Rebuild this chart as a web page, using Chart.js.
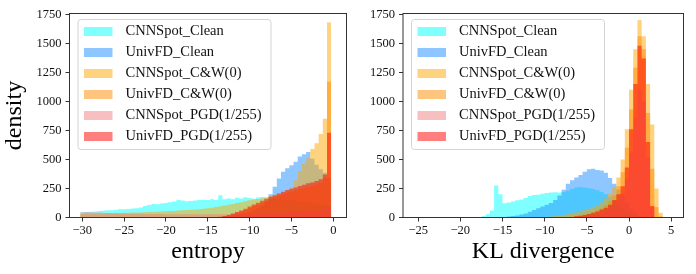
<!DOCTYPE html>
<html>
<head>
<meta charset="utf-8">
<script src="https://cdn.jsdelivr.net/npm/chart.js@4.4.0/dist/chart.umd.min.js"></script>
<style>
  html, body { margin: 0; padding: 0; background: #fff; }
  #wrap { position: relative; width: 696px; height: 274px; }
  canvas { position: absolute; top: 0; }
</style>
</head>
<body>
<div id="wrap">
  <canvas id="entropyChart" width="350" height="274" style="left:0"></canvas>
  <canvas id="klChart" width="346" height="274" style="left:350px"></canvas>
</div>
<script>
const seriesNames = ['CNNSpot_Clean', 'UnivFD_Clean', 'CNNSpot_C&W(0)', 'UnivFD_C&W(0)', 'CNNSpot_PGD(1/255)', 'UnivFD_PGD(1/255)'];
const seriesColors = ['rgba(0,255,255,0.5)', 'rgba(30,144,255,0.5)', 'rgba(255,165,0,0.5)', 'rgba(255,140,0,0.5)', 'rgba(240,128,128,0.5)', 'rgba(255,0,0,0.5)'];

const yTicks = [0, 250, 500, 750, 1000, 1250, 1500, 1750];

// entropy histograms: 60 bins of 0.5, first bin starts at -30.25
const entropyBinStart = -30.25;
const entropyBinWidth = 0.5;
const entropyTicks = [-30, -25, -20, -15, -10, -5, 0];
const entCnnClean = [45, 47, 50, 52, 55, 58, 62, 63, 66, 70, 72, 74, 77, 80, 86, 98, 108, 117, 114, 121,
  124, 132, 138, 152, 146, 140, 142, 147, 150, 153, 150, 157, 150, 192, 158, 164, 158, 170, 163, 175,
  168, 162, 172, 176, 170, 166, 162, 158, 155, 150, 148, 145, 140, 136, 130, 125, 120, 115, 110, 100];
const entUnivClean = [0, 0, 0, 0, 0, 0, 0, 0, 0, 0, 0, 0, 0, 0, 0, 0, 0, 0, 0, 0,
  0, 0, 0, 0, 0, 0, 0, 0, 0, 0, 0, 0, 2, 5, 8, 12, 16, 22, 30, 40,
  50, 65, 80, 100, 135, 200, 265, 335, 395, 425, 450, 480, 525, 545, 565, 505, 455, 415, 385, 340];
const entCnnCW = [30, 32, 33, 34, 35, 35, 36, 37, 38, 38, 40, 41, 42, 43, 44, 46, 47, 48, 50, 52,
  54, 55, 57, 60, 62, 64, 66, 68, 72, 75, 80, 85, 90, 96, 104, 110, 116, 124, 132, 140,
  148, 154, 160, 166, 175, 185, 195, 205, 220, 240, 260, 320, 400, 460, 510, 590, 640, 720, 850, 1680];
const entUnivCW = [0, 0, 0, 0, 0, 0, 0, 0, 0, 0, 0, 0, 0, 0, 0, 0, 0, 0, 0, 0,
  0, 0, 0, 0, 0, 0, 0, 0, 0, 0, 0, 0, 2, 5, 10, 18, 28, 40, 52, 65,
  82, 98, 112, 128, 144, 158, 170, 184, 198, 210, 222, 232, 245, 255, 265, 272, 285, 300, 340, 1170];
const entCnnPGD = [45, 47, 46, 44, 42, 40, 38, 37, 36, 35, 34, 33, 33, 32, 32, 31, 31, 30, 30, 30,
  29, 29, 29, 28, 28, 28, 28, 27, 27, 27, 27, 27, 27, 27, 28, 28, 28, 29, 29, 30,
  30, 31, 32, 33, 34, 35, 36, 38, 40, 42, 44, 46, 48, 50, 52, 55, 58, 62, 70, 90];
const entUnivPGD = [0, 0, 0, 0, 0, 0, 0, 0, 0, 0, 0, 0, 0, 0, 0, 0, 0, 0, 0, 0,
  0, 0, 0, 0, 0, 0, 0, 0, 0, 0, 0, 0, 3, 6, 12, 22, 35, 48, 60, 75,
  95, 112, 128, 145, 162, 178, 192, 207, 222, 237, 248, 258, 272, 283, 295, 302, 315, 330, 370, 730];

// KL divergence histograms: 60 bins of 0.5, first bin starts at -25
const klBinStart = -25;
const klBinWidth = 0.5;
const klTicks = [-25, -20, -15, -10, -5, 0, 5];
const klCnnClean = [1, 1, 1, 1, 2, 2, 2, 2, 2, 3, 3, 3, 3, 4, 5, 10, 28, 60, 275, 200,
  122, 130, 138, 148, 155, 168, 185, 193, 196, 205, 212, 216, 218, 215, 220, 230, 245, 258, 262, 258,
  252, 245, 235, 220, 200, 175, 145, 110, 75, 45, 25, 10, 4, 0, 0, 0, 0, 0, 0, 0];
const klUnivClean = [0, 0, 0, 0, 0, 0, 0, 0, 0, 0, 0, 0, 0, 0, 0, 0, 0, 0, 0, 3,
  5, 8, 12, 18, 25, 35, 50, 65, 80, 95, 110, 125, 150, 190, 240, 290, 320, 345, 365, 395,
  415, 420, 410, 405, 385, 340, 290, 240, 190, 130, 80, 45, 20, 6, 0, 0, 0, 0, 0, 0];
const klCnnCW = [0, 0, 0, 0, 0, 0, 0, 0, 0, 0, 0, 0, 0, 0, 0, 0, 0, 0, 0, 0,
  0, 0, 0, 0, 0, 0, 0, 0, 0, 0, 5, 8, 12, 16, 22, 30, 38, 46, 55, 65,
  78, 92, 108, 130, 165, 205, 260, 345, 500, 760, 1100, 1450, 1700, 1560, 1150, 800, 250, 40, 5, 0];
const klUnivCW = [0, 0, 0, 0, 0, 0, 0, 0, 0, 0, 0, 0, 0, 0, 0, 0, 0, 0, 0, 0,
  0, 0, 0, 0, 0, 0, 0, 0, 0, 0, 0, 0, 0, 0, 0, 0, 8, 14, 20, 27,
  35, 48, 62, 80, 105, 140, 190, 270, 390, 600, 930, 1290, 1560, 1450, 900, 420, 90, 10, 0, 0];
const klCnnPGD = [0, 0, 0, 0, 0, 0, 0, 0, 0, 0, 0, 0, 0, 0, 0, 0, 0, 0, 0, 0,
  0, 0, 0, 0, 0, 0, 0, 0, 0, 0, 0, 0, 0, 0, 0, 0, 0, 0, 5, 10,
  15, 22, 30, 40, 55, 75, 105, 150, 210, 330, 560, 860, 1100, 1000, 520, 90, 5, 0, 0, 0];
const klUnivPGD = [0, 0, 0, 0, 0, 0, 0, 0, 0, 0, 0, 0, 0, 0, 0, 0, 0, 0, 0, 0,
  0, 0, 0, 0, 0, 0, 0, 0, 0, 0, 0, 0, 0, 0, 0, 0, 5, 10, 15, 22,
  30, 40, 52, 68, 85, 110, 150, 200, 270, 430, 760, 1150, 1480, 1370, 650, 100, 5, 0, 0, 0];

const serif = 'Liberation Serif';

// histogram outline: value i held from edge i to edge i+1, drop to 0 at the last edge
function toSteps(values, start, width) {
    const pts = values.map((v, i) => ({ x: start + i * width, y: v }));
    pts.push({ x: start + values.length * width, y: 0 });
    return pts;
}

function tickText(v) {
    return v < 0 ? '\u2212' + Math.abs(v) : String(v);
}

const framePlugin = {
    id: 'frame',
    afterDatasetsDraw(chart) {
        const { ctx, chartArea: a } = chart;
        ctx.save();
        ctx.strokeStyle = '#333';
        ctx.lineWidth = 1;
        ctx.strokeRect(a.left, a.top, a.right - a.left, a.bottom - a.top);
        ctx.restore();
    }
};

const legendPlugin = {
    id: 'boxLegend',
    afterDraw(chart) {
        const { ctx, chartArea: a } = chart;
        const x0 = a.left + 8.5, y0 = a.top + 6;
        ctx.save();
        ctx.beginPath();
        ctx.roundRect(x0, y0, 193, 130, 3);
        ctx.fillStyle = 'rgba(255,255,255,0.8)';
        ctx.fill();
        ctx.strokeStyle = '#d4d4d4';
        ctx.lineWidth = 1;
        ctx.stroke();
        ctx.font = '14.5px "' + serif + '"';
        ctx.textBaseline = 'middle';
        seriesNames.forEach((name, i) => {
            const cy = y0 + 12 + i * 21;
            ctx.fillStyle = seriesColors[i];
            ctx.fillRect(x0 + 6, cy - 4.5, 28.5, 9);
            ctx.fillStyle = '#111';
            ctx.fillText(name, x0 + 47.5, cy);
        });
        ctx.restore();
    }
};

function makeHist(id, c) {
    const series = c.series;
    return new Chart(document.getElementById(id), {
        type: 'line',
        data: {
            datasets: series.map((vals, i) => ({
                label: seriesNames[i],
                data: toSteps(vals, c.binStart, c.binWidth),
                stepped: true,
                fill: 'origin',
                backgroundColor: seriesColors[i],
                borderColor: 'transparent',
                borderWidth: 0,
                pointRadius: 0,
                order: series.length - i,
            }))
        },
        options: {
            responsive: false,
            animation: false,
            devicePixelRatio: 1,
            events: [],
            layout: { padding: { top: 13.5, right: c.padRight, left: 0, bottom: 0 } },
            plugins: { legend: { display: false }, tooltip: { enabled: false } },
            scales: {
                x: {
                    type: 'linear',
                    min: c.xMin,
                    max: c.xMax,
                    offset: false,
                    afterBuildTicks: (s) => { s.ticks = c.xTicks.map(v => ({ value: v })); },
                    afterFit: (s) => { s.height = 56.5; },
                    grid: { drawOnChartArea: false, drawTicks: true, tickLength: 4, color: '#333' },
                    border: { display: false },
                    ticks: {
                        autoSkip: false, maxRotation: 0, padding: 2,
                        color: '#111', font: { family: serif, size: 12.5 },
                        callback: (v) => tickText(v),
                    },
                    title: {
                        display: true, text: c.xTitle, color: '#000',
                        font: { family: serif, size: 24 },
                        padding: { top: 0, bottom: 7.6 },
                    }
                },
                y: {
                    min: 0,
                    max: 1757,
                    afterBuildTicks: (s) => { s.ticks = yTicks.map(v => ({ value: v })); },
                    afterFit: (s) => { s.width = c.yWidth; },
                    grid: { drawOnChartArea: false, drawTicks: true, tickLength: 4, color: '#333' },
                    border: { display: false },
                    ticks: {
                        padding: 4, color: '#111', font: { family: serif, size: 12.5 },
                        callback: (v) => String(v),
                    },
                    title: {
                        display: !!c.yTitle, text: c.yTitle || '', color: '#000',
                        font: { family: serif, size: 24 },
                        padding: { top: 0, bottom: 0 },
                    }
                }
            }
        },
        plugins: [framePlugin, legendPlugin]
    });
}

makeHist('entropyChart', {
    series: [entCnnClean, entUnivClean, entCnnCW, entUnivCW, entCnnPGD, entUnivPGD],
    binStart: entropyBinStart, binWidth: entropyBinWidth,
    xTicks: entropyTicks, xMin: -31.53, xMax: 1.58,
    xTitle: 'entropy', yTitle: 'density',
    yWidth: 69.5, padRight: 3.5,
});

makeHist('klChart', {
    series: [klCnnClean, klUnivClean, klCnnCW, klUnivCW, klCnnPGD, klUnivPGD],
    binStart: klBinStart, binWidth: klBinWidth,
    xTicks: klTicks, xMin: -26.8, xMax: 6.46,
    xTitle: 'KL divergence', yTitle: '',
    yWidth: 53, padRight: 12.5,
});
</script>
</body>
</html>
